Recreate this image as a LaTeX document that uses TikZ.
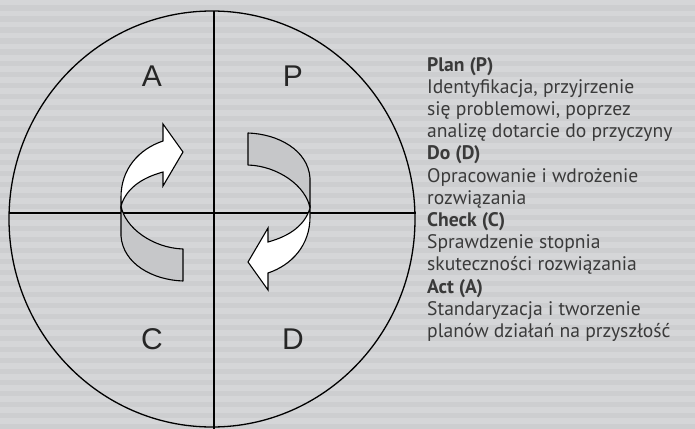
\documentclass[tikz,border=0pt]{standalone}
\usepackage{fontspec}
\setmainfont{PT Sans}
\newfontfamily\quadfont{Liberation Sans}
\definecolor{bgA}{HTML}{D5D6D8}
\definecolor{bgB}{HTML}{CDCED0}
\definecolor{bandgray}{HTML}{C6C7C9}
\definecolor{txt}{HTML}{3A3A3A}
\begin{document}
\begin{tikzpicture}[x=1pt,y=-1pt,
  outline/.style={draw=black,line width=1.3pt},
  bandback/.style={fill=bandgray,draw=black,line width=1.1pt,line join=round},
  bandfront/.style={fill=white,draw=black,line width=1.1pt,line join=miter},
  quad/.style={font=\quadfont\fontsize{30}{30}\selectfont,text=black!85,inner sep=0pt},
  head/.style={font=\bfseries\fontsize{19.6}{22}\selectfont,text=txt,anchor=base west,inner sep=0pt},
  body/.style={font=\fontsize{19.6}{22}\selectfont,text=txt,anchor=base west,inner sep=0pt}]
\useasboundingbox (0,0) rectangle (695,428);
\fill[bgA] (0,0) rectangle (695,428);
\foreach \i in {0,...,38} \fill[bgB] (0,\i*11+5.5) rectangle (695,\i*11+11);
% circle and axes
\draw[outline] (212,219) ellipse [x radius=203pt, y radius=208pt];
\coordinate (vtop) at (214,11);
\coordinate (vbot) at (214,430);
\coordinate (hleft) at (9,213);
\coordinate (hright) at (416,213);
\draw[outline] (vtop) -- (vbot);
\draw[outline] (hleft) -- (hright);
% quadrant letters
\node[quad] (qa) at (152,76) {A};
\node[quad] (qp) at (293,76) {P};
\node[quad] (qc) at (152,339) {C};
\node[quad] (qd) at (293,339) {D};
% right arrow
\path[bandback] (248,133) .. controls (278,134) and (308,150) .. (310,178) -- (310,208)
  .. controls (306,186) and (278,166) .. (248,165) -- cycle;
\path[bandfront] (310,208) .. controls (305,225) and (290,236) .. (268,242) -- (268,228) -- (248,262)
  -- (268,290) -- (268,273) .. controls (292,265) and (310,245) .. (310,217) -- cycle;
% left arrow (rotated copy)
\begin{scope}[rotate around={180:(215.5,207)}]
\path[bandback] (248,133) .. controls (278,134) and (308,150) .. (310,178) -- (310,208)
  .. controls (306,186) and (278,166) .. (248,165) -- cycle;
\path[bandfront] (310,208) .. controls (305,225) and (290,236) .. (268,242) -- (268,228) -- (248,262)
  -- (268,290) -- (268,273) .. controls (292,265) and (310,245) .. (310,217) -- cycle;
\end{scope}
% text
\node[head] (t1) at (427,71) {Plan (P)};
\node[body] (t2) at (427,93.2) {Identyfikacja, przyjrzenie};
\node[body] (t3) at (427,115.4) {się problemowi, poprzez};
\node[body] (t4) at (427,137.6) {analizę dotarcie do przyczyny};
\node[head] (t5) at (427,159.8) {Do (D)};
\node[body] (t6) at (427,182) {Opracowanie i wdrożenie};
\node[body] (t7) at (427,204.2) {rozwiązania};
\node[head] (t8) at (427,226.4) {Check (C)};
\node[body] (t9) at (427,248.6) {Sprawdzenie stopnia};
\node[body] (t10) at (427,270.8) {skuteczności rozwiązania};
\node[head] (t11) at (427,293) {Act (A)};
\node[body] (t12) at (427,315.2) {Standaryzacja i tworzenie};
\node[body] (t13) at (427,337.4) {planów działań na przyszłość};
\end{tikzpicture}
\end{document}
